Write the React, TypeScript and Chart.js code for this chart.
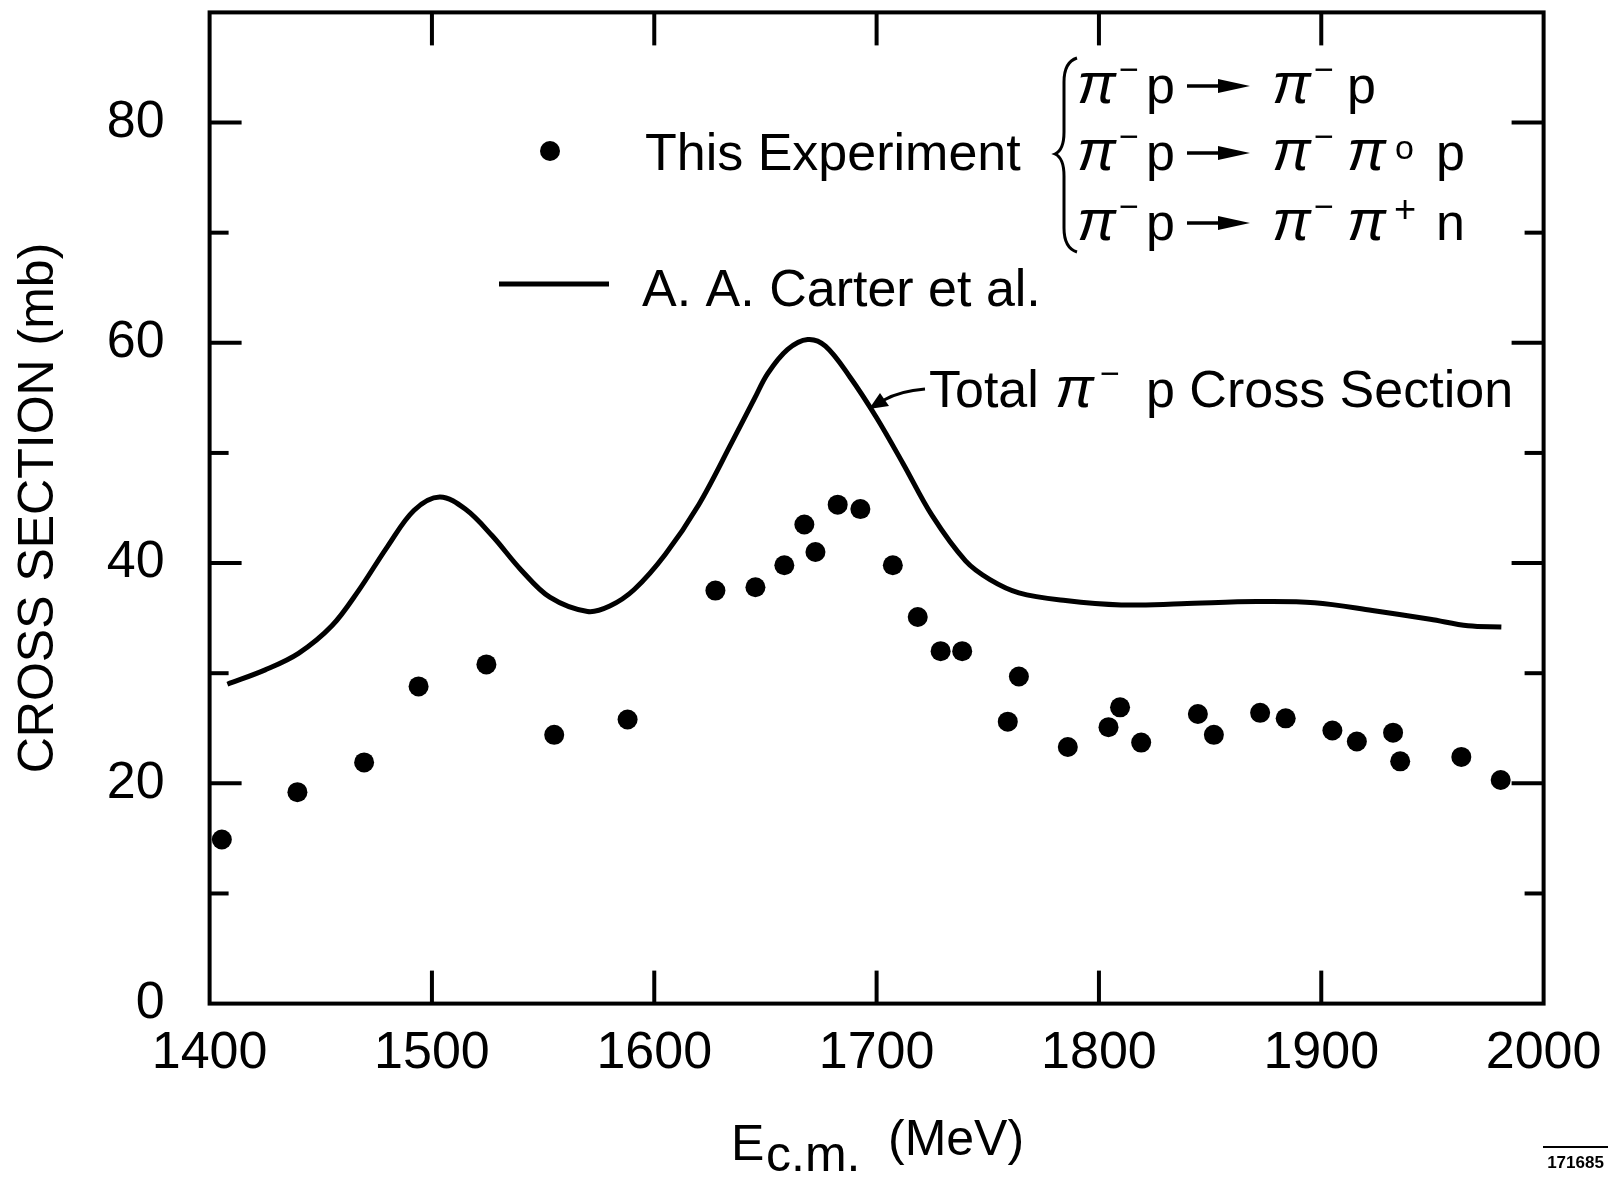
import React, { useEffect, useRef } from "react";
import { Chart, registerables } from "chart.js";

Chart.register(...registerables);

const W = 1619;
const H = 1177;
const FONT = "'Liberation Sans', Arial, Helvetica, sans-serif";

// axis ranges and ticks
const xMin = 1400;
const xMax = 2000;
const yMin = 0;
const yMax = 90;
const xTickLabels = [1400, 1500, 1600, 1700, 1800, 1900, 2000];
const xTickMarks = [1500, 1600, 1700, 1800, 1900];
const yTickLabels = [0, 20, 40, 60, 80];
const yTickMarks = [10, 20, 30, 40, 50, 60, 70, 80];

// "This Experiment" data points (E c.m. in MeV, cross section in mb)
const expEnergy = [
  1405.5, 1439.5, 1469.5, 1494, 1524.5, 1555, 1588, 1627.5, 1645.5, 1658.5,
  1667.5, 1672.5, 1682.5, 1692.7, 1707.3, 1718.5, 1728.8, 1738.5, 1759, 1764,
  1786, 1804.3, 1809.5, 1819, 1844.5, 1851.7, 1872.5, 1884, 1905, 1916,
  1932.3, 1935.5, 1963, 1980.7,
];
const expCross = [
  14.9, 19.2, 21.9, 28.8, 30.8, 24.4, 25.8, 37.5, 37.8, 39.8,
  43.5, 41.0, 45.3, 44.9, 39.8, 35.1, 32.0, 32.0, 25.6, 29.7,
  23.3, 25.1, 26.9, 23.7, 26.3, 24.4, 26.4, 25.9, 24.8, 23.8,
  24.6, 22.0, 22.4, 20.3,
];

// A. A. Carter et al. total pi- p cross section curve
const carterEnergy = [
  1408, 1425, 1440, 1455, 1467, 1480, 1492, 1503.5, 1515, 1527,
  1540, 1553, 1570, 1580, 1591, 1605, 1620, 1635, 1645, 1651,
  1660, 1669, 1677, 1688, 1700, 1712, 1725, 1740, 1751, 1764,
  1785, 1810, 1837, 1871, 1897, 1923, 1949, 1966, 1981,
];
const carterCross = [
  29.0, 30.3, 31.8, 34.3, 37.5, 41.5, 44.8, 46.0, 44.9, 42.5,
  39.4, 36.9, 35.6, 36.1, 37.6, 40.8, 45.3, 51.0, 54.9, 57.2,
  59.4, 60.3, 59.7, 56.9, 53.2, 49.0, 44.3, 40.2, 38.5, 37.3,
  36.6, 36.2, 36.3, 36.5, 36.4, 35.7, 34.9, 34.3, 34.2,
];

const yTitle = "CROSS SECTION (mb)";
const legendExperiment = "This Experiment";
const legendCarter = "A. A. Carter et al.";
const figureId = "171685";

const decorPlugin = {
  id: "decor",
  afterDraw(chart: any) {
    const { ctx, scales } = chart;
    const xs = scales.x;
    const ys = scales.y;
    const L = xs.getPixelForValue(xMin);
    const R = xs.getPixelForValue(xMax);
    const T = ys.getPixelForValue(yMax);
    const B = ys.getPixelForValue(yMin);
    ctx.save();
    ctx.strokeStyle = "#000";
    ctx.fillStyle = "#000";
    ctx.lineCap = "butt";

    const line = (x1: number, y1: number, x2: number, y2: number, w: number) => {
      ctx.lineWidth = w;
      ctx.beginPath();
      ctx.moveTo(x1, y1);
      ctx.lineTo(x2, y2);
      ctx.stroke();
    };
    const text = (s: string, x: number, y: number, size: number, style = "", align: CanvasTextAlign = "left") => {
      ctx.font = `${style} ${size}px ${FONT}`;
      ctx.textAlign = align;
      ctx.textBaseline = "alphabetic";
      ctx.fillText(s, x, y);
    };

    // frame
    ctx.lineWidth = 4;
    ctx.strokeRect(L, T, R - L, B - T);

    // inward ticks
    for (const v of xTickMarks) {
      const px = xs.getPixelForValue(v);
      line(px, B, px, B - 33, 4);
      line(px, T, px, T + 33, 4);
    }
    for (const v of yTickMarks) {
      const py = ys.getPixelForValue(v);
      const len = v % 20 === 0 ? 32 : 19;
      line(L, py, L + len, py, 4);
      line(R, py, R - len, py, 4);
    }

    // legend: dot
    ctx.beginPath();
    ctx.arc(550, 151, 10, 0, Math.PI * 2);
    ctx.fill();
    text(legendExperiment, 645, 170, 52);

    // brace
    ctx.lineWidth = 3;
    ctx.beginPath();
    ctx.moveTo(1077, 58);
    ctx.quadraticCurveTo(1064, 62, 1064, 82);
    ctx.lineTo(1064, 132);
    ctx.quadraticCurveTo(1064, 150, 1055, 154);
    ctx.quadraticCurveTo(1064, 158, 1064, 176);
    ctx.lineTo(1064, 228);
    ctx.quadraticCurveTo(1064, 248, 1077, 252);
    ctx.stroke();

    const arrow = (x1: number, x2: number, y: number) => {
      line(x1, y, x2 - 20, y, 3.5);
      ctx.beginPath();
      ctx.moveTo(x2 - 32, y - 7);
      ctx.lineTo(x2, y);
      ctx.lineTo(x2 - 32, y + 7);
      ctx.closePath();
      ctx.fill();
    };
    const pi = (x: number, base: number) => text("π", x, base, 58, "italic");
    const minusSup = (x: number, base: number) => text("−", x, base - 22, 34);

    const reactionBase = [103, 170, 240];
    reactionBase.forEach((b, i) => {
      pi(1077, b);
      minusSup(1119, b);
      text("p", 1146, b, 52);
      arrow(1187, 1250, b - 17);
      pi(1272, b);
      minusSup(1314, b);
      if (i === 0) {
        text("p", 1347, b, 52);
      } else {
        pi(1347, b);
        if (i === 1) text("o", 1395, b - 11, 34);
        else text("+", 1394, b - 18, 38);
        text(i === 1 ? "p" : "n", 1436, b, 52);
      }
    });

    // legend: line
    line(499, 284, 609, 284, 5);
    text(legendCarter, 642, 306, 52);

    // annotation
    text("Total", 929, 407, 52);
    pi(1055, 407);
    minusSup(1100, 407);
    text("p Cross Section", 1146, 407, 52);
    ctx.lineWidth = 3;
    ctx.beginPath();
    ctx.moveTo(925, 389);
    ctx.quadraticCurveTo(900, 391, 884, 400);
    ctx.stroke();
    ctx.beginPath();
    ctx.moveTo(869, 409);
    ctx.lineTo(880, 393);
    ctx.lineTo(889, 406);
    ctx.closePath();
    ctx.fill();

    // x-axis title
    text("E", 731, 1160, 50);
    text("c.m.", 766, 1171, 50);
    text("(MeV)", 888, 1155, 50);

    // figure id
    line(1543, 1147, 1608, 1147, 2);
    text(figureId, 1575.5, 1168, 17, "bold", "center");

    ctx.restore();
  },
};

export default function App() {
  const ref = useRef<HTMLCanvasElement | null>(null);

  useEffect(() => {
    document.body.style.margin = "0";
    document.body.style.overflow = "hidden";
    const canvas = ref.current;
    if (!canvas) return;
    const chart = new Chart(canvas, {
      type: "scatter",
      data: {
        datasets: [
          {
            label: legendExperiment,
            data: expEnergy.map((x, i) => ({ x, y: expCross[i] })),
            showLine: false,
            pointRadius: 10,
            pointBackgroundColor: "#000",
            pointBorderWidth: 0,
            order: 0,
          },
          {
            label: legendCarter,
            data: carterEnergy.map((x, i) => ({ x, y: carterCross[i] })),
            showLine: true,
            borderColor: "#000",
            borderWidth: 5,
            pointRadius: 0,
            tension: 0.35,
            fill: false,
            order: 1,
          },
        ],
      },
      options: {
        responsive: false,
        animation: false,
        events: [],
        devicePixelRatio: 1,
        layout: { padding: { left: 0, right: 75.4, top: 12.4, bottom: 0 } },
        plugins: { legend: { display: false }, tooltip: { enabled: false } },
        scales: {
          x: {
            type: "linear",
            min: xMin,
            max: xMax,
            grid: { display: false, drawTicks: false },
            border: { display: false },
            ticks: {
              color: "#000",
              font: { family: FONT, size: 52 },
              padding: 19,
              maxRotation: 0,
              autoSkip: false,
              callback: (v: any) => String(v),
            },
            afterBuildTicks: (s: any) => {
              s.ticks = xTickLabels.map((value) => ({ value }));
            },
            afterFit: (s: any) => {
              s.height = H - 1003.6;
              s.paddingLeft = 0;
              s.paddingRight = 0;
            },
          },
          y: {
            type: "linear",
            min: yMin,
            max: yMax,
            grid: { display: false, drawTicks: false },
            border: { display: false },
            title: {
              display: true,
              text: yTitle,
              color: "#000",
              font: { family: FONT, size: 50 },
              padding: { top: 9, bottom: 0 },
            },
            ticks: {
              color: "#000",
              font: { family: FONT, size: 52 },
              padding: 45,
              autoSkip: false,
              callback: (v: any) => String(v),
            },
            afterBuildTicks: (s: any) => {
              s.ticks = yTickLabels.map((value) => ({ value }));
            },
            afterFit: (s: any) => {
              s.width = 209.6;
              s.paddingTop = 0;
              s.paddingBottom = 0;
            },
          },
        },
      },
      plugins: [decorPlugin],
    } as any);
    return () => chart.destroy();
  }, []);

  return (
    <div style={{ width: W, height: H, background: "#fff" }}>
      <canvas ref={ref} width={W} height={H} style={{ display: "block" }} />
    </div>
  );
}
